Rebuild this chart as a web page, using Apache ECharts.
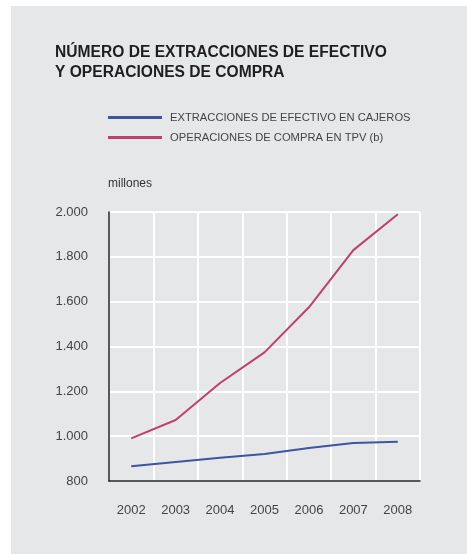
<!DOCTYPE html>
<html>
<head>
<meta charset="utf-8">
<script src="https://cdn.jsdelivr.net/npm/echarts@6/dist/echarts.min.js"></script>
<style>
  html, body { margin: 0; padding: 0; background: #fff; }
  #chart-container { width: 467px; height: 554px; }
</style>
</head>
<body>
<div id="chart-container"></div>
<script>
var years = ["2002", "2003", "2004", "2005", "2006", "2007", "2008"];
var cajeros = [866, 885, 904, 920, 947, 970, 975];
var compras = [990, 1072, 1237, 1374, 1575, 1830, 1990];
var seriesNames = ["EXTRACCIONES DE EFECTIVO EN CAJEROS", "OPERACIONES DE COMPRA EN TPV (b)"];
var seriesColors = ["#3c56a0", "#c0406a"];

var dom = document.getElementById("chart-container");
var myChart = echarts.init(dom, null, { renderer: "canvas" });
var font = "Liberation Sans, Arial, sans-serif";

var option = {
  backgroundColor: "#fff",
  animation: false,
  graphic: [
    { type: "rect", left: 11, top: 6, shape: { width: 456, height: 548 },
      style: { fill: "#e6e7e9" }, z: -10 },
    { type: "text", left: 55, top: 43,
      style: { text: "NÚMERO DE EXTRACCIONES DE EFECTIVO\nY OPERACIONES DE COMPRA",
        fill: "#1e1e1e", font: "bold 15.6px " + font, lineHeight: 20 } },
    { type: "text", left: 108, top: 178,
      style: { text: "millones", fill: "#333", font: "12px " + font } }
  ],
  legend: {
    orient: "vertical",
    left: 108,
    top: 112,
    padding: 0,
    itemWidth: 54,
    itemHeight: 3,
    itemGap: 9,
    icon: "rect",
    textStyle: { color: "#444", fontSize: 11.2, fontFamily: font, padding: [0, 0, 0, 3] },
    data: seriesNames
  },
  grid: { left: 109, right: 47, top: 212, bottom: 73, containLabel: false },
  xAxis: {
    type: "category",
    data: years,
    boundaryGap: true,
    axisLine: { lineStyle: { color: "#222", width: 1.5 } },
    axisTick: { show: false },
    axisLabel: { color: "#444", fontSize: 13, fontFamily: font, margin: 23 },
    splitLine: { show: true, lineStyle: { color: "#fff", width: 2 } }
  },
  yAxis: {
    type: "value",
    min: 800,
    max: 2000,
    interval: 200,
    axisLine: { show: true, lineStyle: { color: "#222", width: 1.5 } },
    axisTick: { show: false },
    axisLabel: {
      color: "#444", fontSize: 13, fontFamily: font, margin: 21,
      formatter: function (v) { return v >= 1000 ? Math.floor(v / 1000) + "." + String(v % 1000).padStart(3, "0") : String(v); }
    },
    splitLine: { show: true, lineStyle: { color: "#fff", width: 2 } }
  },
  series: [
    { name: seriesNames[0], type: "line", data: cajeros, symbol: "none",
      itemStyle: { color: seriesColors[0] }, lineStyle: { color: seriesColors[0], width: 2 } },
    { name: seriesNames[1], type: "line", data: compras, symbol: "none",
      itemStyle: { color: seriesColors[1] }, lineStyle: { color: seriesColors[1], width: 2 } }
  ]
};

myChart.setOption(option);
window.addEventListener("resize", myChart.resize);
</script>
</body>
</html>
